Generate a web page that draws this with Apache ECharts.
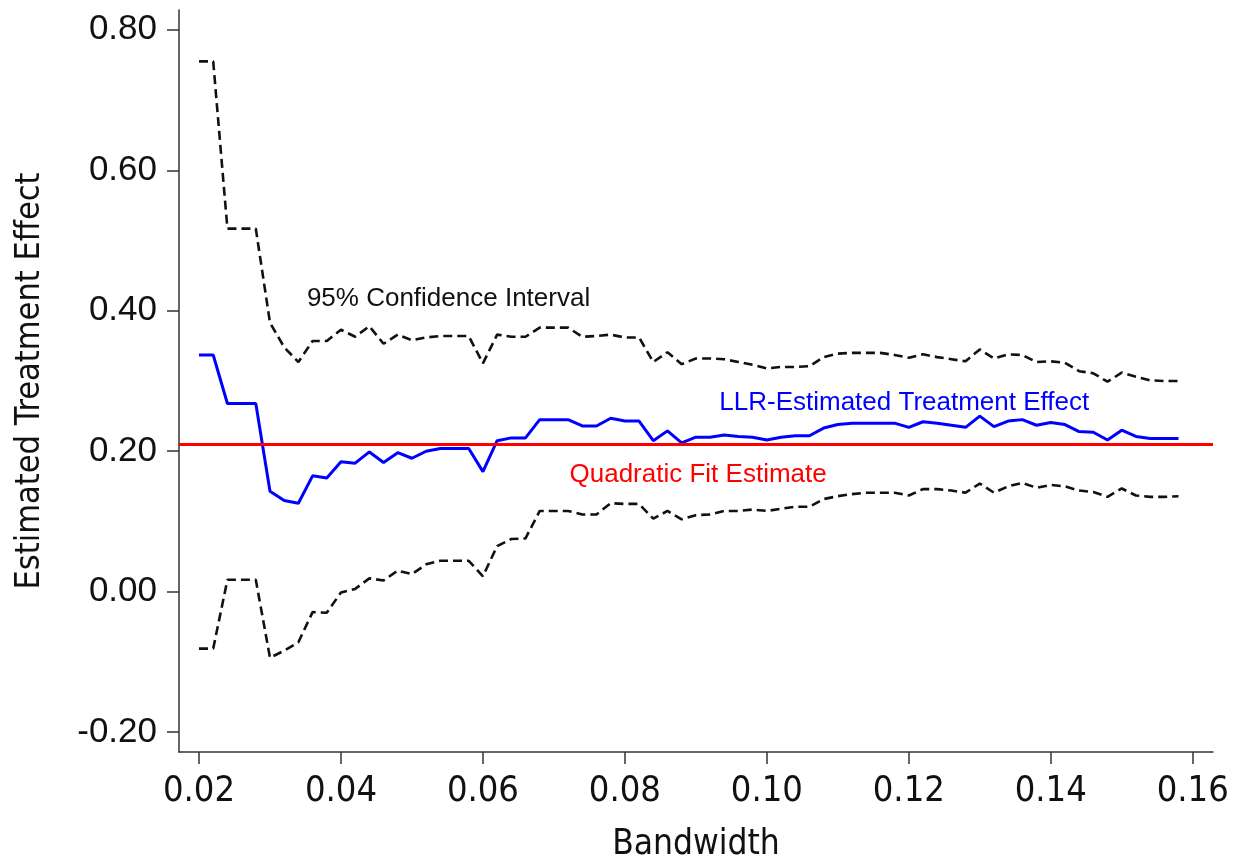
<!DOCTYPE html>
<html>
<head>
<meta charset="utf-8">
<style>html,body{margin:0;padding:0;background:#fff;width:100%;height:100%;overflow:hidden}#c{width:100vw;height:100vh}</style>
<script src="https://cdn.jsdelivr.net/npm/echarts@6/dist/echarts.min.js"></script>
</head>
<body>
<div id="c"></div>
<script>
const bandwidth = [0.020,0.022,0.024,0.026,0.028,0.030,0.032,0.034,0.036,0.038,0.040,0.042,0.044,0.046,0.048,0.050,0.052,0.054,0.056,0.058,0.060,0.062,0.064,0.066,0.068,0.070,0.072,0.074,0.076,0.078,0.080,0.082,0.084,0.086,0.088,0.090,0.092,0.094,0.096,0.098,0.100,0.102,0.104,0.106,0.108,0.110,0.112,0.114,0.116,0.118,0.120,0.122,0.124,0.126,0.128,0.130,0.132,0.134,0.136,0.138,0.140,0.142,0.144,0.146,0.148,0.150,0.152,0.154,0.156,0.158];
const llrEstimate = [0.337,0.337,0.268,0.268,0.268,0.143,0.130,0.126,0.165,0.162,0.185,0.183,0.199,0.184,0.198,0.190,0.200,0.204,0.204,0.204,0.171,0.215,0.219,0.219,0.245,0.245,0.245,0.236,0.236,0.247,0.243,0.243,0.215,0.229,0.212,0.220,0.220,0.223,0.221,0.220,0.216,0.220,0.222,0.222,0.233,0.238,0.240,0.240,0.240,0.240,0.234,0.242,0.240,0.237,0.234,0.250,0.235,0.243,0.245,0.237,0.241,0.238,0.228,0.227,0.216,0.230,0.221,0.218,0.218,0.218];
const ciUpper = [0.755,0.755,0.517,0.517,0.517,0.383,0.348,0.327,0.357,0.357,0.373,0.363,0.378,0.353,0.366,0.358,0.362,0.364,0.364,0.364,0.325,0.366,0.363,0.363,0.376,0.376,0.376,0.363,0.364,0.366,0.362,0.362,0.327,0.341,0.324,0.332,0.332,0.331,0.327,0.323,0.318,0.320,0.320,0.321,0.334,0.339,0.340,0.340,0.340,0.337,0.333,0.338,0.334,0.331,0.328,0.345,0.332,0.338,0.337,0.327,0.328,0.326,0.314,0.311,0.299,0.312,0.306,0.301,0.300,0.300];
const ciLower = [-0.081,-0.081,0.017,0.017,0.017,-0.094,-0.084,-0.072,-0.029,-0.030,-0.001,0.004,0.019,0.016,0.030,0.025,0.039,0.044,0.044,0.044,0.022,0.065,0.075,0.076,0.115,0.115,0.115,0.110,0.110,0.126,0.125,0.125,0.104,0.115,0.103,0.109,0.110,0.115,0.115,0.117,0.115,0.118,0.121,0.121,0.132,0.136,0.139,0.141,0.141,0.141,0.137,0.146,0.146,0.144,0.141,0.154,0.141,0.150,0.155,0.148,0.152,0.150,0.144,0.142,0.135,0.147,0.137,0.135,0.135,0.136];
const quadraticFit = 0.208;
const xTicks = [0.02,0.04,0.06,0.08,0.10,0.12,0.14,0.16];
const yTicks = [-0.2,0,0.2,0.4,0.6,0.8];
const annoText = ['95% Confidence Interval','LLR-Estimated Treatment Effect','Quadratic Fit Estimate'];
const annoX = [0.0352,0.0933,0.0722];
const annoY = [0.4167,0.2684,0.1661];
const annoColor = ['#111111','#0000ff','#ff0000'];

const pair = (ys) => bandwidth.map((x,i)=>[x,ys[i]]);
const narrow = "'Liberation Sans Narrow','Arial Narrow','DejaVu Sans Condensed','Liberation Sans',sans-serif";
const sans = "'Liberation Sans',Arial,sans-serif";

const chart = echarts.init(document.getElementById('c'), null, {renderer:'canvas'});
const H = chart.getHeight();
const gridBottom = Math.max(0, H - 758);
chart.setOption({
  animation:false,
  backgroundColor:'#fff',
  grid:{left:179,right:27,top:10,bottom:gridBottom,containLabel:false},
  xAxis:{
    type:'value', min:0.01718, max:0.16286,
    name:'Bandwidth', nameLocation:'middle', nameGap:75,
    nameTextStyle:{fontFamily:narrow,fontSize:35,color:'#111'},
    axisLine:{show:true,onZero:false,lineStyle:{color:'#333',width:1.5}},
    axisTick:{show:true,customValues:xTicks,length:12,lineStyle:{color:'#333',width:1.5}},
    axisLabel:{customValues:xTicks,formatter:v=>v.toFixed(2),fontFamily:narrow,fontSize:36,color:'#111',margin:22},
    splitLine:{show:false}
  },
  yAxis:{
    type:'value', min:-0.2282, max:0.8282,
    name:'Estimated Treatment Effect', nameLocation:'middle', nameGap:132, nameRotate:90,
    nameTextStyle:{fontFamily:narrow,fontSize:34,color:'#111'},
    axisLine:{show:true,onZero:false,lineStyle:{color:'#333',width:1.5}},
    axisTick:{show:true,customValues:yTicks,length:12,lineStyle:{color:'#333',width:1.5}},
    axisLabel:{customValues:yTicks,formatter:v=>v.toFixed(2),fontFamily:sans,fontSize:35,color:'#111',margin:22},
    splitLine:{show:false}
  },
  series:[
    {type:'line',name:'upper',data:pair(ciUpper),symbol:'none',z:3,
     lineStyle:{color:'#111',width:2.6,type:[9,5],cap:'butt'}},
    {type:'line',name:'lower',data:pair(ciLower),symbol:'none',z:3,
     lineStyle:{color:'#111',width:2.6,type:[9,5],cap:'butt'}},
    {type:'line',name:'llr',data:pair(llrEstimate),symbol:'none',z:4,
     lineStyle:{color:'#0000ff',width:3},
     markLine:{silent:true,symbol:['none','none'],label:{show:false},
       lineStyle:{color:'#ff0000',width:3,type:'solid'},data:[{yAxis:quadraticFit}]}},
    {type:'scatter',name:'anno',symbolSize:0,silent:true,z:5,itemStyle:{opacity:1},
     data:annoText.map((t,i)=>({value:[annoX[i],annoY[i]],name:t,
       label:{show:true,position:'right',distance:0,formatter:t,color:annoColor[i],opacity:1,
              textBorderWidth:0,fontFamily:sans,fontSize:26}}))}
  ]
});
</script>
</body>
</html>
